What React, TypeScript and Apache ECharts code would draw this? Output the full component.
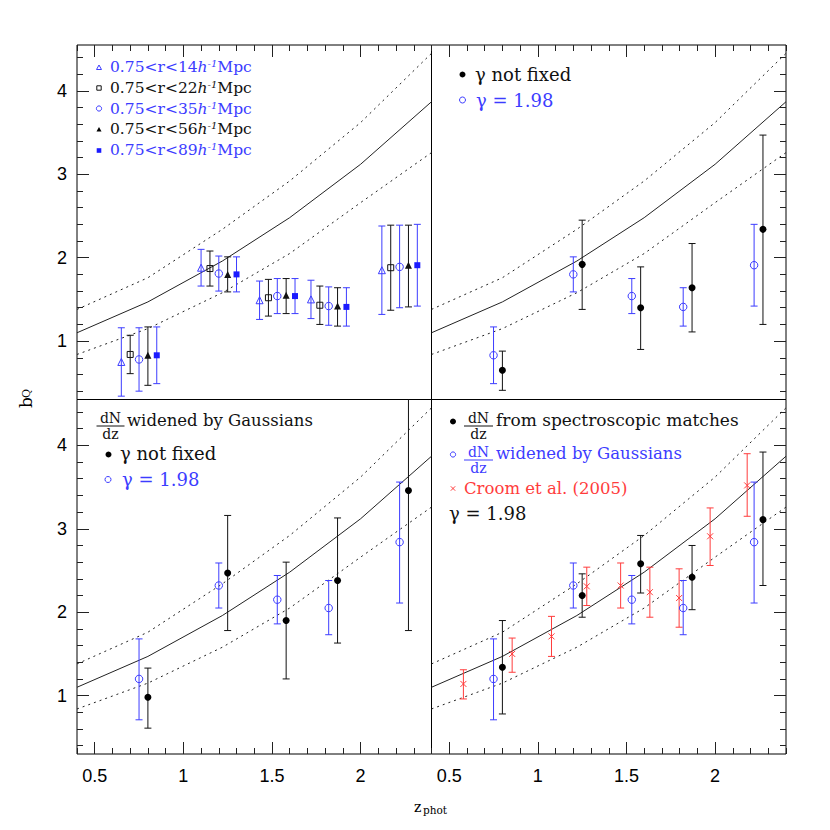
import React, { useEffect, useRef } from 'react';
import * as echarts from 'echarts';

// ---------- axes ----------
const X_MIN = 0.4;
const X_MAX = 2.4;
const Y_MIN = 0.3;
const Y_MAX = 4.55;
const xMajorTicks = [0.5, 1, 1.5, 2];
const xMinorTicks = [0.4, 0.5, 0.6, 0.7, 0.8, 0.9, 1.0, 1.1, 1.2, 1.3, 1.4, 1.5, 1.6, 1.7, 1.8, 1.9, 2.0, 2.1, 2.2, 2.3, 2.4];
const yMajorTicks = [1, 2, 3, 4];
const yMinorTicks = [0.4, 0.6, 0.8, 1.0, 1.2, 1.4, 1.6, 1.8, 2.0, 2.2, 2.4, 2.6, 2.8, 3.0, 3.2, 3.4, 3.6, 3.8, 4.0, 4.2, 4.4];

// ---------- model curves (same in all panels) ----------
const curveZ = [0.4, 0.8, 1.22, 1.6, 2.0, 2.4];
const curveMid = [1.10, 1.47, 1.96, 2.48, 3.12, 3.87];
const curveHigh = [1.38, 1.76, 2.34, 2.92, 3.62, 4.45];
const curveLow = [0.84, 1.15, 1.58, 2.05, 2.66, 3.26];

// ---------- top-left panel: scale ranges ----------
const r14Z = [0.65, 1.10, 1.43, 1.72, 2.12];
const r14B = [0.75, 1.88, 1.49, 1.50, 1.85];
const r14Lo = [0.34, 1.66, 1.26, 1.27, 1.32];
const r14Hi = [1.16, 2.10, 1.72, 1.73, 2.38];

const r22Z = [0.70, 1.15, 1.48, 1.77, 2.17];
const r22B = [0.84, 1.87, 1.52, 1.43, 1.88];
const r22Lo = [0.61, 1.66, 1.30, 1.20, 1.37];
const r22Hi = [1.07, 2.08, 1.74, 1.66, 2.39];

const r35Z = [0.75, 1.20, 1.53, 1.82, 2.22];
const r35B = [0.78, 1.81, 1.54, 1.42, 1.89];
const r35Lo = [0.40, 1.60, 1.33, 1.19, 1.40];
const r35Hi = [1.16, 2.02, 1.75, 1.65, 2.39];

const r56Z = [0.80, 1.25, 1.58, 1.87, 2.27];
const r56B = [0.83, 1.80, 1.55, 1.42, 1.91];
const r56Lo = [0.47, 1.59, 1.33, 1.18, 1.41];
const r56Hi = [1.17, 2.01, 1.75, 1.64, 2.39];

const r89Z = [0.85, 1.30, 1.63, 1.92, 2.32];
const r89B = [0.83, 1.80, 1.54, 1.41, 1.91];
const r89Lo = [0.49, 1.59, 1.33, 1.18, 1.42];
const r89Hi = [1.17, 2.01, 1.75, 1.64, 2.40];

// ---------- top-right panel ----------
const trFixZ = [0.75, 1.20, 1.53, 1.82, 2.22];
const trFixB = [0.83, 1.80, 1.54, 1.41, 1.91];
const trFixLo = [0.49, 1.59, 1.33, 1.18, 1.42];
const trFixHi = [1.17, 2.01, 1.75, 1.64, 2.40];

const trFreeZ = [0.80, 1.25, 1.58, 1.87, 2.27];
const trFreeB = [0.65, 1.92, 1.40, 1.64, 2.34];
const trFreeLo = [0.41, 1.38, 0.90, 1.11, 1.20];
const trFreeHi = [0.88, 2.45, 1.89, 2.17, 3.47];

// ---------- bottom-left panel (dN/dz widened by Gaussians) ----------
const gaussFixZ = [0.75, 1.20, 1.53, 1.82, 2.22];
const gaussFixB = [1.20, 2.32, 2.15, 2.05, 2.84];
const gaussFixLo = [0.71, 2.05, 1.86, 1.73, 2.11];
const gaussFixHi = [1.68, 2.59, 2.44, 2.38, 3.56];

const gaussFreeZ = [0.80, 1.25, 1.58, 1.87, 2.27];
const gaussFreeB = [0.98, 2.47, 1.90, 2.38, 3.46];
const gaussFreeLo = [0.61, 1.78, 1.20, 1.63, 1.78];
const gaussFreeHi = [1.33, 3.16, 2.60, 3.13, 4.80];

// ---------- bottom-right panel ----------
const specZ = [0.80, 1.25, 1.58, 1.87, 2.27];
const specB = [1.34, 2.20, 2.58, 2.42, 3.11];
const specLo = [0.78, 1.94, 2.23, 2.03, 2.32];
const specHi = [1.90, 2.46, 2.92, 2.80, 3.92];

const croomZ = [0.58, 0.855, 1.077, 1.276, 1.467, 1.632, 1.797, 1.972, 2.181];
const croomB = [1.14, 1.50, 1.71, 2.31, 2.32, 2.24, 2.17, 2.91, 3.52];
const croomLo = [0.96, 1.28, 1.47, 2.08, 2.05, 1.94, 1.82, 2.56, 3.15];
const croomHi = [1.31, 1.69, 1.95, 2.54, 2.59, 2.54, 2.52, 3.25, 3.90];

// ---------- styling ----------
const BLUE = '#3c3cff';
const BLACK = '#111111';
const RED = '#ff3c3c';
const SERIF = 'DejaVu Serif';
const SANS = 'Liberation Sans';

const PANEL = 354.5;
const GRIDS = [
  { left: 77, top: 45 },
  { left: 431.5, top: 45 },
  { left: 77, top: 399.5 },
  { left: 431.5, top: 399.5 },
];

function pairs(xs: number[], ys: number[]) {
  return xs.map((x, i) => [x, ys[i]]);
}

function xAxisPair(g: number, position: string, labels: boolean) {
  const base = {
    type: 'value', gridIndex: g, position, min: X_MIN, max: X_MAX,
    axisLine: { show: false }, splitLine: { show: false },
  };
  return [
    {
      ...base,
      axisTick: { show: true, inside: true, length: 12, customValues: xMajorTicks, lineStyle: { color: '#222', width: 1 } },
      axisLabel: { show: labels, customValues: xMajorTicks, fontFamily: SANS, fontSize: 18, color: '#000', margin: 13 },
    },
    {
      ...base,
      axisTick: { show: true, inside: true, length: 6, customValues: xMinorTicks, lineStyle: { color: '#222', width: 1 } },
      axisLabel: { show: false },
    },
  ];
}

function yAxisPair(g: number, position: string, labels: boolean) {
  const base = {
    type: 'value', gridIndex: g, position, min: Y_MIN, max: Y_MAX,
    axisLine: { show: false }, splitLine: { show: false },
  };
  return [
    {
      ...base,
      axisTick: { show: true, inside: true, length: 12, customValues: yMajorTicks, lineStyle: { color: '#222', width: 1 } },
      axisLabel: { show: labels, customValues: yMajorTicks, fontFamily: SANS, fontSize: 18, color: '#000', margin: 10 },
    },
    {
      ...base,
      axisTick: { show: true, inside: true, length: 6, customValues: yMinorTicks, lineStyle: { color: '#222', width: 1 } },
      axisLabel: { show: false },
    },
  ];
}

function curveSeries(g: number) {
  const common = {
    type: 'line', xAxisIndex: 2 * g, yAxisIndex: 2 * g, symbol: 'none', silent: true, clip: true, z: 1,
  };
  return [
    { ...common, data: pairs(curveZ, curveMid), lineStyle: { color: '#222', width: 1 } },
    { ...common, data: pairs(curveZ, curveHigh), lineStyle: { color: '#222', width: 1, type: [2, 4] } },
    { ...common, data: pairs(curveZ, curveLow), lineStyle: { color: '#222', width: 1, type: [2, 4] } },
  ];
}

function errSeries(g: number, xs: number[], lo: number[], hi: number[], color: string) {
  return {
    type: 'custom', xAxisIndex: 2 * g, yAxisIndex: 2 * g, clip: true, silent: true, z: 2,
    data: xs.map((x, i) => [x, lo[i], hi[i]]),
    encode: { x: 0, y: [1, 2] },
    renderItem: (params: any, api: any) => {
      const top = api.coord([api.value(0), api.value(2)]);
      const bot = api.coord([api.value(0), api.value(1)]);
      const w = 3.5;
      const st = { stroke: color, lineWidth: 1 };
      return {
        type: 'group',
        children: [
          { type: 'line', shape: { x1: top[0], y1: top[1], x2: bot[0], y2: bot[1] }, style: st },
          { type: 'line', shape: { x1: top[0] - w, y1: top[1], x2: top[0] + w, y2: top[1] }, style: st },
          { type: 'line', shape: { x1: bot[0] - w, y1: bot[1], x2: bot[0] + w, y2: bot[1] }, style: st },
        ],
      };
    },
  };
}

function markSeries(g: number, xs: number[], ys: number[], symbol: string, size: number, color: string, filled: boolean) {
  return {
    type: 'scatter', xAxisIndex: 2 * g, yAxisIndex: 2 * g, silent: true, z: 3,
    data: pairs(xs, ys), symbol, symbolSize: size,
    itemStyle: filled
      ? { color, borderWidth: 0, opacity: 1 }
      : { color: 'rgba(255,255,255,0)', borderColor: color, borderWidth: 1, opacity: 1 },
  };
}

const CROSS = 'path://M0,0L10,10M10,0L0,10';

function txt(x: number, y: number, text: string, color: string, size: number, family = SERIF, align = 'left', valign = 'middle') {
  return { type: 'text', x, y, silent: true, style: { text, fill: color, fontSize: size, fontFamily: family, align, verticalAlign: valign, lineHeight: size } };
}

function frac(cx: number, yBar: number, w: number, color: string) {
  return [
    txt(cx, yBar - 0.6, 'dN', color, 14, SERIF, 'center', 'bottom'),
    { type: 'line', silent: true, shape: { x1: cx - w / 2, y1: yBar, x2: cx + w / 2, y2: yBar }, style: { stroke: color, lineWidth: 1 } },
    txt(cx, yBar + 0.6, 'dz', color, 14, SERIF, 'center', 'top'),
  ];
}

function tri(x: number, y: number, s: number, color: string, filled: boolean) {
  return {
    type: 'polygon', silent: true,
    shape: { points: [[x, y - s], [x - s, y + s * 0.8], [x + s, y + s * 0.8]] },
    style: filled ? { fill: color } : { fill: 'none', stroke: color, lineWidth: 1 },
  };
}
function sq(x: number, y: number, s: number, color: string, filled: boolean) {
  return {
    type: 'rect', silent: true, shape: { x: x - s, y: y - s, width: 2 * s, height: 2 * s },
    style: filled ? { fill: color } : { fill: 'none', stroke: color, lineWidth: 1 },
  };
}
function circ(x: number, y: number, r: number, color: string, filled: boolean) {
  return {
    type: 'circle', silent: true, shape: { cx: x, cy: y, r },
    style: filled ? { fill: color } : { fill: 'none', stroke: color, lineWidth: 1 },
  };
}
function cross(x: number, y: number, s: number, color: string) {
  return [
    { type: 'line', silent: true, shape: { x1: x - s, y1: y - s, x2: x + s, y2: y + s }, style: { stroke: color, lineWidth: 1 } },
    { type: 'line', silent: true, shape: { x1: x - s, y1: y + s, x2: x + s, y2: y - s }, style: { stroke: color, lineWidth: 1 } },
  ];
}

function legendTL(x: number, y: number, label: string, color: string) {
  return {
    type: 'text', x, y, silent: true,
    style: {
      text: `{n|${label}}{i|h}{s|-1}{n|Mpc}`,
      fill: color, verticalAlign: 'middle', align: 'left',
      rich: {
        n: { fontFamily: SERIF, fontSize: 15.5, fill: color },
        i: { fontFamily: SERIF, fontSize: 15.5, fontStyle: 'italic', fill: color },
        s: { fontFamily: SERIF, fontSize: 10, fontStyle: 'italic', fill: color, verticalAlign: 'top', padding: [0, 0, 7, 0] },
      },
    },
  };
}

export default function App() {
  const ref = useRef<HTMLDivElement>(null);
  useEffect(() => {
    if (!ref.current) return;
    const chart = echarts.init(ref.current, undefined, { renderer: 'svg' });

    const grid = GRIDS.map((p) => ({
      left: p.left, top: p.top, width: PANEL, height: PANEL,
      show: true, borderColor: '#000', borderWidth: 1, backgroundColor: 'transparent',
    }));

    const xAxis = [
      ...xAxisPair(0, 'top', false),
      ...xAxisPair(1, 'top', false),
      ...xAxisPair(2, 'bottom', true),
      ...xAxisPair(3, 'bottom', true),
    ];
    const yAxis = [
      ...yAxisPair(0, 'left', true),
      ...yAxisPair(1, 'right', false),
      ...yAxisPair(2, 'left', true),
      ...yAxisPair(3, 'right', false),
    ];

    const series: any[] = [
      ...curveSeries(0), ...curveSeries(1), ...curveSeries(2), ...curveSeries(3),
      // TL
      errSeries(0, r14Z, r14Lo, r14Hi, BLUE),
      errSeries(0, r22Z, r22Lo, r22Hi, BLACK),
      errSeries(0, r35Z, r35Lo, r35Hi, BLUE),
      errSeries(0, r56Z, r56Lo, r56Hi, BLACK),
      errSeries(0, r89Z, r89Lo, r89Hi, BLUE),
      markSeries(0, r14Z, r14B, 'triangle', 7, BLUE, false),
      markSeries(0, r22Z, r22B, 'rect', 6, BLACK, false),
      markSeries(0, r35Z, r35B, 'circle', 7.5, BLUE, false),
      markSeries(0, r56Z, r56B, 'triangle', 7, BLACK, true),
      markSeries(0, r89Z, r89B, 'rect', 6, '#1a1aff', true),
      // TR
      errSeries(1, trFixZ, trFixLo, trFixHi, BLUE),
      errSeries(1, trFreeZ, trFreeLo, trFreeHi, BLACK),
      markSeries(1, trFixZ, trFixB, 'circle', 7.5, BLUE, false),
      markSeries(1, trFreeZ, trFreeB, 'circle', 7, '#000', true),
      // BL
      errSeries(2, gaussFixZ, gaussFixLo, gaussFixHi, BLUE),
      errSeries(2, gaussFreeZ, gaussFreeLo, gaussFreeHi, BLACK),
      markSeries(2, gaussFixZ, gaussFixB, 'circle', 7.5, BLUE, false),
      markSeries(2, gaussFreeZ, gaussFreeB, 'circle', 7, '#000', true),
      // BR
      errSeries(3, croomZ, croomLo, croomHi, RED),
      errSeries(3, gaussFixZ, gaussFixLo, gaussFixHi, BLUE),
      errSeries(3, specZ, specLo, specHi, BLACK),
      markSeries(3, croomZ, croomB, CROSS, 6, RED, false),
      markSeries(3, gaussFixZ, gaussFixB, 'circle', 7.5, BLUE, false),
      markSeries(3, specZ, specB, 'circle', 7, '#000', true),
    ];

    const graphic: any[] = [
      // TL legend
      tri(99, 67.5, 2.5, BLUE, false), legendTL(110, 67, '0.75<r<14', BLUE),
      sq(99, 88, 2.2, BLACK, false), legendTL(110, 88, '0.75<r<22', BLACK),
      circ(99, 108.5, 2.6, BLUE, false), legendTL(110, 108.5, '0.75<r<35', BLUE),
      tri(99, 129.5, 2.5, '#000', true), legendTL(110, 129, '0.75<r<56', BLACK),
      sq(99, 150.5, 2.3, '#1a1aff', true), legendTL(110, 150, '0.75<r<89', BLUE),
      // TR legend
      circ(462.5, 74.5, 3, '#000', true), txt(475, 74, 'γ not fixed', BLACK, 18),
      circ(462.5, 100, 3, BLUE, false), txt(476, 100, 'γ = 1.98', BLUE, 18),
      // BL legend
      ...frac(110.5, 426, 28, BLACK), txt(127, 420, 'widened by Gaussians', BLACK, 16.5),
      circ(108.5, 454.5, 3, '#000', true), txt(120, 453, 'γ not fixed', BLACK, 18),
      circ(108, 479.5, 3, BLUE, false), txt(122, 479, 'γ = 1.98', BLUE, 18),
      // BR legend
      circ(453, 421.5, 3, '#000', true),
      ...frac(478.5, 426, 29, BLACK), txt(496, 420, 'from spectroscopic matches', BLACK, 17),
      circ(453, 454.5, 2.6, BLUE, false),
      ...frac(478.5, 460, 29, BLUE), txt(496, 453, 'widened by Gaussians', BLUE, 16.5),
      ...cross(453, 488.5, 2.2, RED), txt(464, 488, 'Croom et al. (2005)', RED, 16.5),
      txt(449, 513, 'γ = 1.98', BLACK, 18),
      // y axis title b_Q (rotated)
      {
        type: 'group', x: 17, y: 408, rotation: Math.PI / 2, silent: true,
        children: [
          { type: 'text', x: 0, y: 0, style: { text: 'b', fontFamily: SERIF, fontSize: 17, fill: '#000', verticalAlign: 'alphabetic', align: 'left' } },
          { type: 'text', x: 10, y: 4, style: { text: 'Q', fontFamily: SERIF, fontSize: 11, fill: '#000', verticalAlign: 'alphabetic', align: 'left' } },
        ],
      },
      // x axis title z_phot
      {
        type: 'group', x: 414, y: 800, silent: true,
        children: [
          { type: 'text', x: 0, y: 0, style: { text: 'z', fontFamily: SERIF, fontSize: 14, fill: '#000', verticalAlign: 'alphabetic', align: 'left' } },
          { type: 'text', x: 9, y: 4, style: { text: 'phot', fontFamily: SERIF, fontSize: 10.5, fill: '#000', verticalAlign: 'alphabetic', align: 'left' } },
        ],
      },
    ];

    chart.setOption({
      animation: false,
      backgroundColor: '#fff',
      grid,
      xAxis,
      yAxis,
      series,
      graphic: { elements: graphic },
    });
    return () => chart.dispose();
  }, []);
  return <div ref={ref} style={{ position: 'absolute', left: 0, top: 0, width: 830, height: 830 }} />;
}
